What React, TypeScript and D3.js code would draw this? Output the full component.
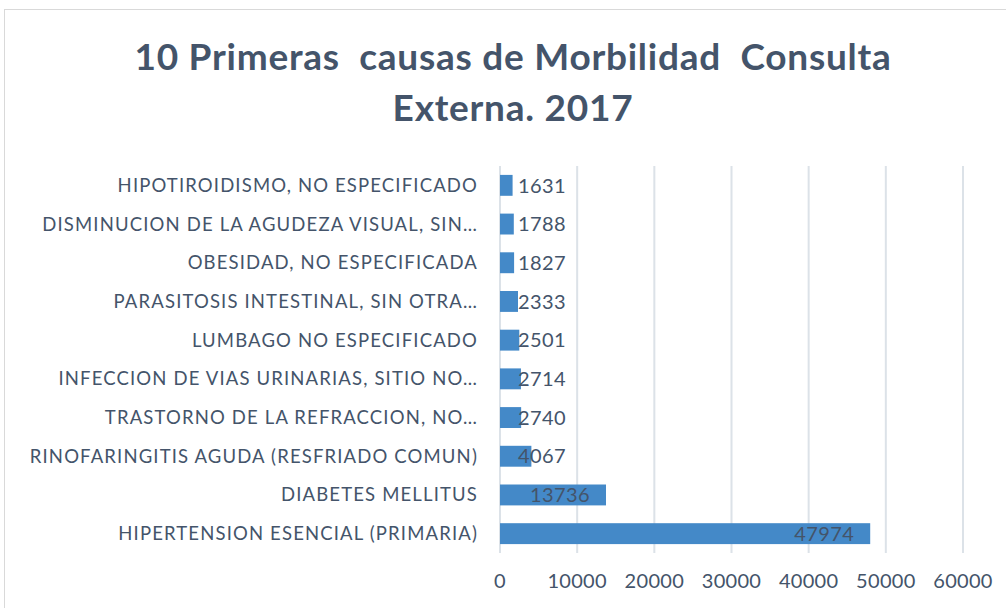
import React from "react";
import * as d3 from "d3";

const categories = [
  "HIPOTIROIDISMO, NO ESPECIFICADO",
  "DISMINUCION DE LA AGUDEZA VISUAL, SIN…",
  "OBESIDAD, NO ESPECIFICADA",
  "PARASITOSIS INTESTINAL, SIN OTRA…",
  "LUMBAGO NO ESPECIFICADO",
  "INFECCION DE VIAS URINARIAS, SITIO NO…",
  "TRASTORNO DE LA REFRACCION, NO…",
  "RINOFARINGITIS AGUDA (RESFRIADO COMUN)",
  "DIABETES MELLITUS",
  "HIPERTENSION ESENCIAL (PRIMARIA)",
];
const values = [1631, 1788, 1827, 2333, 2501, 2714, 2740, 4067, 13736, 47974];
const ticks = [0, 10000, 20000, 30000, 40000, 50000, 60000];
const titleLines = ["10 Primeras  causas de Morbilidad  Consulta", "Externa. 2017"];

const W = 1006;
const H = 608;
const x0 = 500;
const x1 = 963;
const top = 166;
const bottom = 553;

export default function App() {
  const x = d3.scaleLinear().domain([0, 60000]).range([x0, x1]);
  const y = d3.scaleBand<string>().domain(categories).range([top, bottom]).paddingInner(0.46).paddingOuter(0.23);
  const textColor = "#44546A";
  const font = "Lato, 'Open Sans', sans-serif";
  return (
    <svg width={W} height={H} style={{ position: "absolute", left: 0, top: 0, background: "#fff" }}>
      <rect x={4.5} y={9.5} width={W + 10} height={H + 10} fill="#fff" stroke="#D9D9D9" />
      {titleLines.map((t, i) => (
        <text key={i} x={513} y={70 + i * 51} textAnchor="middle" fontFamily={font} fontWeight={700} fontSize={37} letterSpacing={0.75} fill={textColor} style={{ whiteSpace: "pre" }}>
          {t}
        </text>
      ))}
      {ticks.map((t) => (
        <g key={t}>
          <line x1={x(t)} x2={x(t)} y1={top} y2={bottom} stroke="#DCE2E8" strokeWidth={2} />
          <text x={x(t)} y={588} textAnchor="middle" fontFamily={font} fontSize={20} letterSpacing={0.3} fill={textColor}>
            {t}
          </text>
        </g>
      ))}
      {categories.map((c, i) => {
        const yy = y(c)!;
        const bw = y.bandwidth();
        const end = x(values[i]);
        const labelEnd = Math.max(end - 16, 566);
        return (
          <g key={c}>
            <rect x={x(0)} y={yy} width={end - x(0)} height={bw} fill="#4489C8" />
            <text x={478} y={yy + bw / 2} dy="0.35em" textAnchor="end" fontFamily={font} fontSize={18.5} letterSpacing={1.15} fill={textColor}>
              {c}
            </text>
            <text x={labelEnd} y={yy + bw / 2} dy="0.36em" textAnchor="end" fontFamily={font} fontSize={20} letterSpacing={0.4} fill={textColor}>
              {values[i]}
            </text>
          </g>
        );
      })}
    </svg>
  );
}
